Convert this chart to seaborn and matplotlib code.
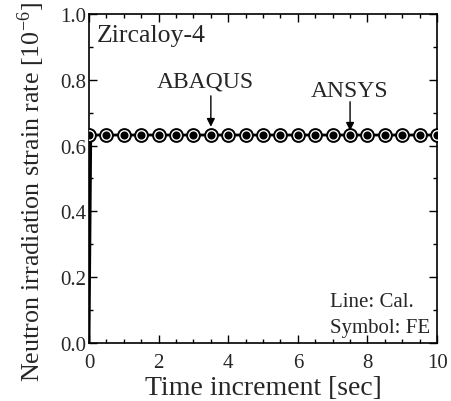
import numpy as np
import pandas as pd
import seaborn as sns
import matplotlib.pyplot as plt
from matplotlib.ticker import MultipleLocator

# calculated line
t_cal = [0.0, 0.05, 10.0]
rate_cal = [0.0, 0.632, 0.632]

# FE symbols (ANSYS open, ABAQUS filled)
t_fe = [0.0, 0.5, 1.0, 1.5, 2.0, 2.5, 3.0, 3.5, 4.0, 4.5, 5.0,
        5.5, 6.0, 6.5, 7.0, 7.5, 8.0, 8.5, 9.0, 9.5, 10.0]
rate_ansys = [0.632] * len(t_fe)
rate_abaqus = [0.632] * len(t_fe)

sns.set_style('ticks')
plt.rcParams['font.family'] = ['Liberation Serif', 'DejaVu Serif']
plt.rcParams['mathtext.fontset'] = 'stix'

fig = plt.figure(figsize=(4.52, 4.02), dpi=100)
ax = fig.add_axes([0.197, 0.144, 0.770, 0.819])

cal = pd.DataFrame({'t': t_cal, 'rate': rate_cal})
sns.lineplot(data=cal, x='t', y='rate', ax=ax, color='black', lw=2.0, zorder=2)

sns.scatterplot(x=t_fe, y=rate_ansys, ax=ax, marker='o', s=85,
                facecolor='white', edgecolor='black', linewidth=1.4, zorder=3)
sns.scatterplot(x=t_fe, y=rate_abaqus, ax=ax, marker='o', s=34,
                color='black', edgecolor='black', linewidth=0, zorder=4)

ax.set_xlim(0, 10)
ax.set_ylim(0, 1.0)
ax.xaxis.set_major_locator(MultipleLocator(2))
ax.xaxis.set_minor_locator(MultipleLocator(0.5))
ax.yaxis.set_major_locator(MultipleLocator(0.2))
ax.yaxis.set_minor_locator(MultipleLocator(0.1))
ax.yaxis.set_major_formatter(plt.FuncFormatter(lambda v, p: f'{v:.1f}'))
ax.tick_params(which='both', direction='in', top=True, right=True, labelsize=15, color='black')
ax.tick_params(which='major', length=6, width=1)
ax.tick_params(which='minor', length=3, width=1)
ax.tick_params(axis='x', pad=7)
ax.tick_params(axis='y', pad=2)
for s in ax.spines.values():
    s.set_visible(True)
    s.set_linewidth(1.2)
    s.set_color('black')

ax.set_xlabel('Time increment [sec]', fontsize=20, labelpad=2)
ax.set_ylabel('Neutron irradiation strain rate [10$^{\\mathregular{-6}}$]', fontsize=18.7)
ax.yaxis.set_label_coords(-0.122, 0.462)

ax.text(0.23, 0.918, 'Zircaloy-4', fontsize=18.5, va='baseline', ha='left')
ax.text(3.33, 0.778, 'ABAQUS', fontsize=17, ha='center', va='baseline')
ax.annotate('', xy=(3.5, 0.657), xytext=(3.5, 0.751),
            arrowprops=dict(arrowstyle='-|>', color='black', lw=1, mutation_scale=12, shrinkA=0, shrinkB=0))
ax.text(7.5, 0.751, 'ANSYS', fontsize=17, ha='center', va='baseline')
ax.annotate('', xy=(7.5, 0.645), xytext=(7.5, 0.733),
            arrowprops=dict(arrowstyle='-|>', color='black', lw=1, mutation_scale=12, shrinkA=0, shrinkB=0))
ax.text(6.93, 0.112, 'Line: Cal.', fontsize=15, ha='left', va='baseline')
ax.text(6.93, 0.033, 'Symbol: FE', fontsize=15, ha='left', va='baseline')

fig.savefig('out.png', dpi=100)
